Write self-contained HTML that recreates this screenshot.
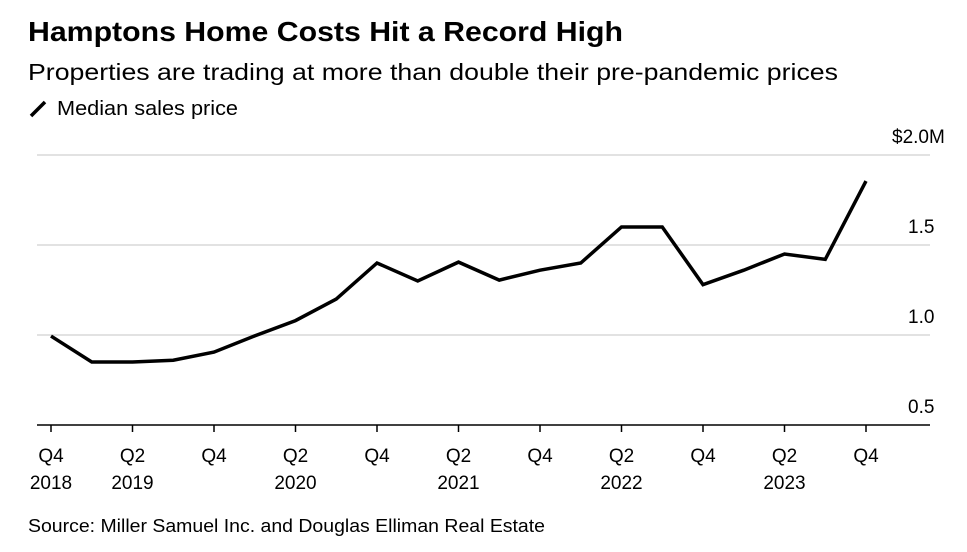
<!DOCTYPE html>
<html><head><meta charset="utf-8"><style>
body{margin:0;background:#fff;width:967px;height:547px;overflow:hidden;font-family:"Liberation Sans",Arial,sans-serif;}
</style></head><body>
<svg width="967" height="547" font-family="Liberation Sans, Arial, sans-serif">
<text x="28" y="41" font-size="28" font-weight="bold" fill="#000" textLength="595" lengthAdjust="spacingAndGlyphs">Hamptons Home Costs Hit a Record High</text>
<text x="28" y="80" font-size="23" fill="#000" textLength="810" lengthAdjust="spacingAndGlyphs">Properties are trading at more than double their pre-pandemic prices</text>
<g>
<line x1="31" y1="116" x2="45" y2="102" stroke="#000" stroke-width="3.5"/>
<text x="57" y="115" font-size="20" fill="#000" textLength="181" lengthAdjust="spacingAndGlyphs">Median sales price</text>
</g>
<g id="grid"></g>
<g id="xaxis"></g>
<path id="line" fill="none" stroke="#000" stroke-width="3.5" stroke-linejoin="miter"/>
<text x="28" y="532" font-size="18" fill="#000" textLength="517" lengthAdjust="spacingAndGlyphs">Source: Miller Samuel Inc. and Douglas Elliman Real Estate</text>
</svg>
<script>
const values=[0.994,0.85,0.85,0.86,0.905,0.995,1.08,1.2,1.4,1.3,1.405,1.305,1.36,1.4,1.6,1.6,1.28,1.36,1.45,1.42,1.855];
const yTicks=[0.5,1.0,1.5,2.0];
const yTickLabels=["0.5","1.0","1.5","$2.0M"];
const xTickLabels=[["Q4","2018"],["Q2","2019"],["Q4",""],["Q2","2020"],["Q4",""],["Q2","2021"],["Q4",""],["Q2","2022"],["Q4",""],["Q2","2023"],["Q4",""]];
const NS="http://www.w3.org/2000/svg";
const x=i=>51+i*40.75;
const y=v=>155+(2.0-v)*180;
const grid=document.getElementById('grid');
yTicks.forEach((t,i)=>{
  const l=document.createElementNS(NS,'line');
  l.setAttribute('x1',37);l.setAttribute('x2',930);
  l.setAttribute('y1',y(t));l.setAttribute('y2',y(t));
  l.setAttribute('stroke',i===0?'#000':'#d9d9d9');l.setAttribute('stroke-width',1.5);
  
  
  grid.appendChild(l);
  const lab=yTickLabels[i];
  const tx=document.createElementNS(NS,'text');
  tx.setAttribute('x',lab.startsWith('$')?892:908);tx.setAttribute('y',y(t)-12);
  tx.setAttribute('font-size','19');
  tx.textContent=lab;
  
  
  grid.appendChild(tx);
});
const xa=document.getElementById('xaxis');
xTickLabels.forEach((lab,k)=>{
  const xi=x(k*2);
  const tk=document.createElementNS(NS,'line');
  tk.setAttribute('x1',xi);tk.setAttribute('x2',xi);tk.setAttribute('y1',425);tk.setAttribute('y2',432);
  tk.setAttribute('stroke','#000');tk.setAttribute('stroke-width','1.5');
  
  
  xa.appendChild(tk);
  lab.forEach((s,j)=>{
    if(!s)return;
    const t=document.createElementNS(NS,'text');
    t.setAttribute('x',xi);t.setAttribute('y',462+j*27);
    t.setAttribute('text-anchor','middle');t.setAttribute('font-size','19');
    t.textContent=s;
    
    
    xa.appendChild(t);
  });
});
document.getElementById('line').setAttribute('d',values.map((v,i)=>(i?'L':'M')+x(i)+','+y(v)).join(' '));
</script>
</body></html>
